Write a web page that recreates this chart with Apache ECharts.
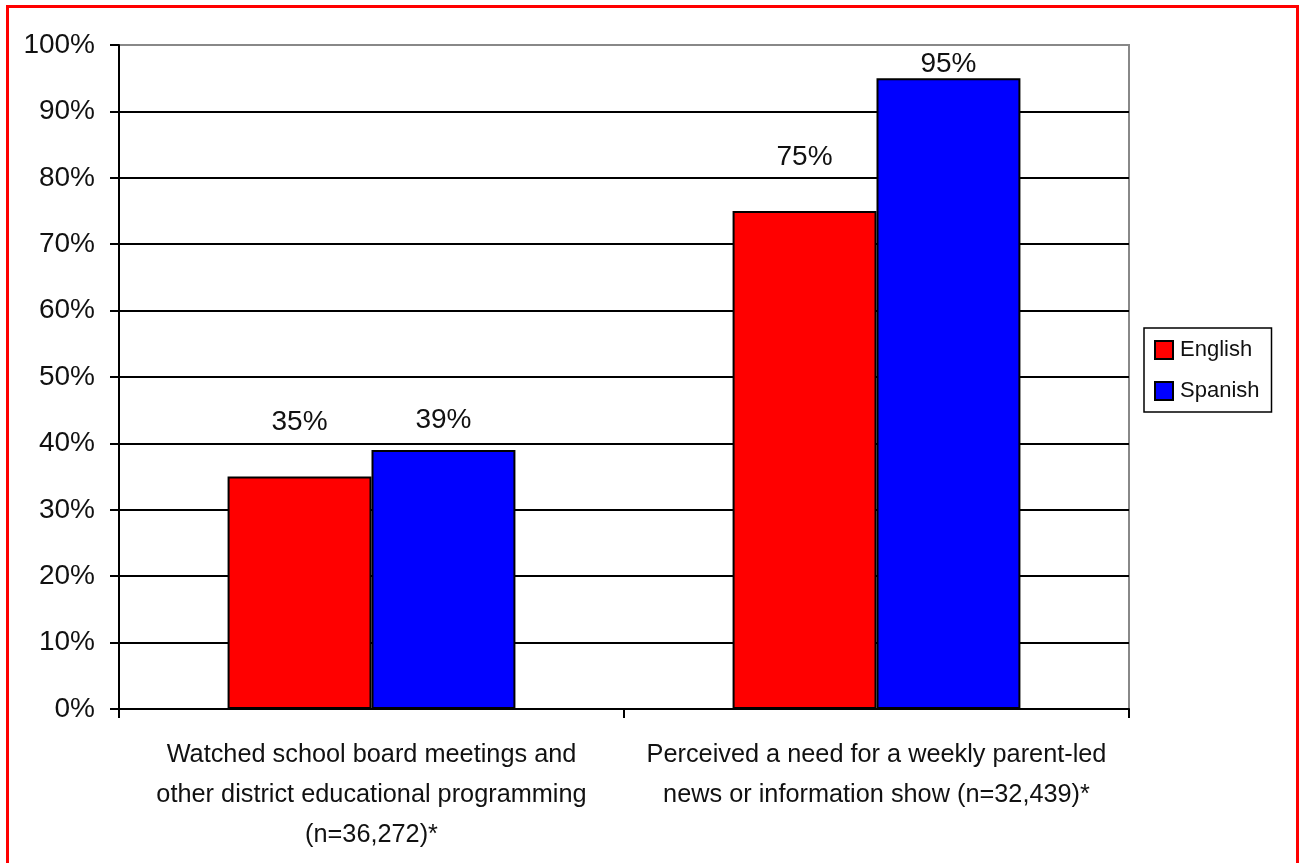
<!DOCTYPE html>
<html>
<head>
<meta charset="utf-8">
<script src="https://cdn.jsdelivr.net/npm/echarts@6/dist/echarts.min.js"></script>
<style>
  html, body { margin: 0; padding: 0; background: #fff; }
  #chart { width: 1299px; height: 863px; }
</style>
</head>
<body>
<div id="chart"></div>
<script>
// Survey results by language group
const categories = [
  'Watched school board meetings and\nother district educational programming\n(n=36,272)*',
  'Perceived a need for a weekly parent-led\nnews or information show (n=32,439)*'
];
const englishValues = [35, 75];
const spanishValues = [39, 95];
const yTicks = [0, 10, 20, 30, 40, 50, 60, 70, 80, 90, 100];

// extra lift of each value label above its bar (px)
const englishLabelLift = [34, 34];
const spanishLabelLift = [10, -6];

const FONT = '"Liberation Sans", Arial, sans-serif';
const TEXT = '#111';

function withLabels(values, lifts) {
  return values.map((v, i) => ({
    value: v,
    label: { distance: 6 + lifts[i] }
  }));
}

// black grid lines, grey line at the top
const splitColors = yTicks.map((t, i) => (i === yTicks.length - 1 ? '#888' : '#000'));

const chart = echarts.init(document.getElementById('chart'));
chart.setOption({
  animation: false,
  backgroundColor: '#fff',
  textStyle: { fontFamily: FONT },
  grid: {
    left: 119, right: 170, top: 45, bottom: 154,
    show: true, borderColor: '#888', borderWidth: 2, backgroundColor: 'transparent'
  },
  legend: {
    orient: 'vertical',
    left: 1144, top: 328,
    padding: [11, 12, 10, 10],
    itemWidth: 18, itemHeight: 18, itemGap: 19,
    icon: 'rect',
    borderColor: '#000', borderWidth: 1.5,
    textStyle: { fontFamily: FONT, fontSize: 22, color: TEXT, padding: [0, 0, 0, 2] },
    data: ['English', 'Spanish']
  },
  xAxis: {
    type: 'category',
    data: categories,
    axisLine: { show: true, lineStyle: { color: '#000', width: 2 } },
    axisTick: { show: true, length: 9, lineStyle: { color: '#000', width: 2 } },
    axisLabel: {
      fontFamily: FONT, fontSize: 25.3, color: TEXT, lineHeight: 40, margin: 26,
      interval: 0
    },
    splitLine: { show: false }
  },
  yAxis: {
    type: 'value',
    min: 0, max: 100, interval: 10,
    axisLine: { show: true, lineStyle: { color: '#000', width: 2 } },
    axisTick: { show: true, length: 9, lineStyle: { color: '#000', width: 2 } },
    axisLabel: {
      fontFamily: FONT, fontSize: 28, color: TEXT, margin: 24,
      formatter: '{value}%'
    },
    splitLine: { show: true, lineStyle: { color: splitColors, width: 2 } }
  },
  series: [
    {
      name: 'English', type: 'bar',
      data: withLabels(englishValues, englishLabelLift),
      barGap: '0%', barCategoryGap: '43%',
      itemStyle: { color: '#ff0000', borderColor: '#000', borderWidth: 2 },
      label: {
        show: true, position: 'top', formatter: '{c}%',
        fontFamily: FONT, fontSize: 28, color: TEXT
      }
    },
    {
      name: 'Spanish', type: 'bar',
      data: withLabels(spanishValues, spanishLabelLift),
      barGap: '0%', barCategoryGap: '43%',
      itemStyle: { color: '#0000ff', borderColor: '#000', borderWidth: 2 },
      label: {
        show: true, position: 'top', formatter: '{c}%',
        fontFamily: FONT, fontSize: 28, color: TEXT
      }
    }
  ],
  graphic: [
    {
      type: 'rect',
      shape: { x: 7.5, y: 6.5, width: 1290, height: 880 },
      style: { fill: 'none', stroke: '#ff0000', lineWidth: 3 },
      silent: true
    }
  ]
});
</script>
</body>
</html>
